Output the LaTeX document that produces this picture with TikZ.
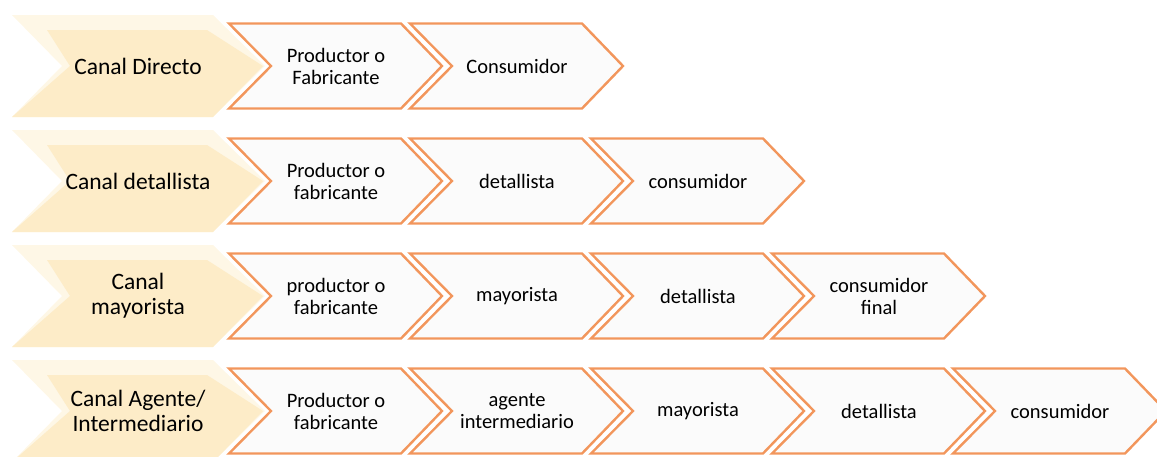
\documentclass[tikz,border=0pt]{standalone}
\usepackage{fontspec}
\setmainfont{Carlito}
\definecolor{orD}{RGB}{242,150,92}
\definecolor{chevFill}{RGB}{251,251,251}
\definecolor{bigOut}{RGB}{254,247,230}
\definecolor{bigIn}{RGB}{253,236,200}
\tikzset{
  chev/.style={draw=orD, line width=2.4pt, fill=chevFill, line join=miter},
  lab/.style={align=center, font=\fontsize{20.5}{22}\selectfont, inner sep=0pt, text=black},
  biglab/.style={align=center, font=\fontsize{23.5}{25}\selectfont, inner sep=0pt, text=black},
}
\newcommand\chevS[4]{% x0, yc, name, text
\begin{scope}[shift={(#1,#2)}]
\draw[chev] (0,-42.5) -- (172,-42.5) -- (213,0) -- (172,42.5) -- (0,42.5) -- (42,0) -- cycle;
\node[lab] (#3) at (107,0) {#4};
\end{scope}}
\newcommand\chevB[3]{% yc, name, text
\begin{scope}[shift={(12,#1)}]
\fill[bigOut] (0,-51) -- (201,-51) -- (253,0) -- (201,51) -- (0,51) -- (50,0) -- cycle;
\fill[bigIn] (35,-36) -- (195,-36) -- (251,0) -- (201,51) -- (0,51) -- (58,0) -- cycle;
\node[biglab] (#2) at (126,0) {#3};
\end{scope}}
\begin{document}
\begin{tikzpicture}[x=1pt,y=-1pt]
\useasboundingbox (0,0) rectangle (1157,456);
% row 1
\chevB{66}{b1}{Canal Directo}
\chevS{229}{66}{r1a}{Productor o\\Fabricante}
\chevS{410}{66}{r1b}{Consumidor}
% row 2
\chevB{181}{b2}{Canal detallista}
\chevS{229}{181}{r2a}{Productor o\\fabricante}
\chevS{410}{181}{r2b}{detallista}
\chevS{591}{181}{r2c}{consumidor}
% row 3
\chevB{296}{b3}{Canal\\mayorista}
\chevS{229}{296}{r3a}{productor o\\fabricante}
\chevS{410}{296}{r3b}{mayorista}
\chevS{591}{296}{r3c}{detallista}
\chevS{772}{296}{r3d}{consumidor\\final}
% row 4
\chevB{411}{b4}{Canal Agente/\\Intermediario}
\chevS{229}{411}{r4a}{Productor o\\fabricante}
\chevS{410}{411}{r4b}{agente\\intermediario}
\chevS{591}{411}{r4c}{mayorista}
\chevS{772}{411}{r4d}{detallista}
\chevS{953}{411}{r4e}{consumidor}
\end{tikzpicture}
\end{document}
